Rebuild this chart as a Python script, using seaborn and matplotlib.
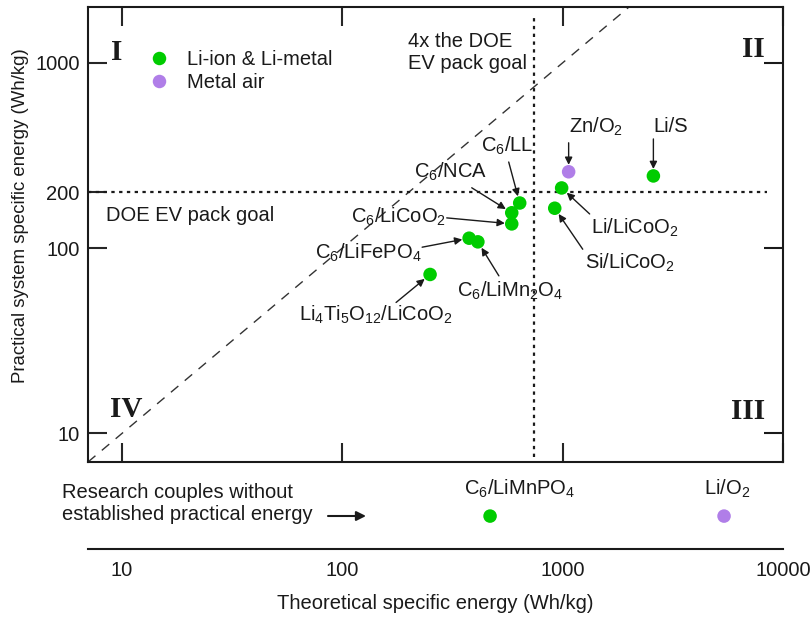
import numpy as np
import pandas as pd
import matplotlib
matplotlib.use("Agg")
import matplotlib.pyplot as plt
from matplotlib.ticker import FixedLocator, FixedFormatter, NullLocator
import seaborn as sns

# -------------------------
# data
# -------------------------
couples = ["Li$_4$Ti$_5$O$_{12}$/LiCoO$_2$", "C$_6$/LiFePO$_4$", "C$_6$/LiMn$_2$O$_4$",
           "C$_6$/LiCoO$_2$", "C$_6$/NCA", "C$_6$/LL", "Si/LiCoO$_2$", "Li/LiCoO$_2$",
           "Zn/O$_2$", "Li/S"]
theoretical = [250, 376, 412, 587, 587, 638, 920, 989, 1064, 2580]
practical = [72, 113, 108, 135, 155, 175, 164, 211, 258, 245]
chem_type = ["Li-ion & Li-metal", "Li-ion & Li-metal", "Li-ion & Li-metal",
             "Li-ion & Li-metal", "Li-ion & Li-metal", "Li-ion & Li-metal",
             "Li-ion & Li-metal", "Li-ion & Li-metal", "Metal air", "Li-ion & Li-metal"]

research_couples = ["C$_6$/LiMnPO$_4$", "Li/O$_2$"]
research_theoretical = [468, 5400]
research_type = ["Li-ion & Li-metal", "Metal air"]

doe_goal = 200          # practical pack goal (Wh/kg)
four_x_goal = 740       # theoretical line drawn on the chart

x_ticks = [10, 100, 1000, 10000]
y_ticks = [10, 100, 200, 1000]

palette = {"Li-ion & Li-metal": "#00cc00", "Metal air": "#b07ee8"}

# label layout: (text dx, text dy, ha), arrow tail (dx, dy) in pixels from the point
label_layout = [
    ((-131, -46, "left"), (-34, -28)),
    ((-48, -20, "right"), (-47, -9)),
    ((-21, -55, "left"), (21, -34)),
    ((-66, 1, "right"), (-65, 6)),
    ((-25, 35, "right"), (-40, 25)),
    ((-39, 51, "left"), (-11, 41)),
    ((30, -60, "left"), (28, -41)),
    ((29, -46, "left"), (28, -26)),
    ((0, 39, "left"), (0, 29)),
    ((0, 44, "left"), (0, 37)),
]
research_layout = [(-26, 21), (-20, 21)]

df = pd.DataFrame({"couple": couples, "theoretical": theoretical,
                   "practical": practical, "type": chem_type})
df_res = pd.DataFrame({"couple": research_couples, "theoretical": research_theoretical,
                       "type": research_type})

# -------------------------
# style
# -------------------------
sns.set_theme(style="white")
plt.rcParams["font.family"] = ["Liberation Sans", "DejaVu Sans"]
plt.rcParams["mathtext.default"] = "regular"
plt.rcParams["axes.linewidth"] = 1.5
TXT = "#1a1a1a"
FS = 14.5

W, H = 812, 623
fig = plt.figure(figsize=(W / 100, H / 100), dpi=100)
ax = fig.add_axes([88 / W, 1 - 462 / H, 695 / W, 455 / H])
ax2 = fig.add_axes([88 / W, 1 - 549 / H, 695 / W, 79 / H])

# main scatter
sns.scatterplot(data=df, x="theoretical", y="practical", hue="type", palette=palette,
                hue_order=["Li-ion & Li-metal", "Metal air"],
                s=95, edgecolor="none", linewidth=0, ax=ax, zorder=5)
ax.set_xscale("log")
ax.set_yscale("log")
ax.set_xlim(7, 10000)
ax.set_ylim(7, 2000)

ax.xaxis.set_major_locator(FixedLocator(x_ticks))
ax.xaxis.set_minor_locator(NullLocator())
ax.yaxis.set_major_locator(FixedLocator(y_ticks))
ax.yaxis.set_major_formatter(FixedFormatter([str(t) for t in y_ticks]))
ax.yaxis.set_minor_locator(NullLocator())
ax.tick_params(axis="x", which="major", direction="in", length=14, width=1.5,
               top=True, bottom=True, labelbottom=False, labeltop=False)
ax.tick_params(axis="y", which="major", direction="in", length=14, width=1.5,
               left=True, right=False, labelsize=FS, labelcolor=TXT, pad=6)
for sp in ax.spines.values():
    sp.set_color(TXT)

right = ax.secondary_yaxis("right")
right.yaxis.set_major_locator(FixedLocator([10, 100, 1000]))
right.yaxis.set_minor_locator(NullLocator())
right.tick_params(direction="in", length=14, width=1.5, labelright=False, color=TXT)
right.spines["right"].set_visible(False)

ax.set_xlabel("")
ax.set_ylabel("Practical system specific energy (Wh/kg)", fontsize=13.4, color=TXT)
ax.yaxis.set_label_coords(-0.085, (462 - 216) / 455)

# reference lines
ax.axline((10, 10), (1000, 1000), color="#333333", lw=1.0, ls=(0, (7, 6)), zorder=1)
ax.axhline(doe_goal, xmin=0, xmax=0.977, color=TXT, lw=1.6, ls=(0, (1.5, 2)), zorder=1)
ax.axvline(four_x_goal, ymin=0.011, ymax=0.978, color=TXT, lw=1.6, ls=(0, (1.5, 2)), zorder=1)

ax.text(0.026, (462 - 221) / 455, "DOE EV pack goal", transform=ax.transAxes,
        fontsize=FS, color=TXT, va="baseline")
ax.text((408 - 88) / 695, (462 - 47) / 455, "4x the DOE", transform=ax.transAxes,
        fontsize=FS, color=TXT, va="baseline")
ax.text((408 - 88) / 695, (462 - 69) / 455, "EV pack goal", transform=ax.transAxes,
        fontsize=FS, color=TXT, va="baseline")

# quadrant numerals
serif = dict(family=["Liberation Serif", "DejaVu Serif"], fontweight="bold", fontsize=21, color=TXT,
             ha="center", va="baseline", transform=ax.transAxes)
ax.text((117 - 88) / 695, (462 - 60) / 455, "I", **serif)
ax.text((753 - 88) / 695, (462 - 57) / 455, "II", **serif)
ax.text((748 - 88) / 695, (462 - 419) / 455, "III", **serif)
ax.text((126 - 88) / 695, (462 - 417) / 455, "IV", **serif)

# labels with arrows
for (name, x, y), ((tx, ty, ha), (axx, ayy)) in zip(
        df[["couple", "theoretical", "practical"]].itertuples(index=False), label_layout):
    ax.annotate("", xy=(x, y), xytext=(axx, ayy), textcoords="offset pixels",
                arrowprops=dict(arrowstyle="-|>", color=TXT, lw=1.0, shrinkA=0, shrinkB=5,
                                mutation_scale=11))
    ax.annotate(name, xy=(x, y), xytext=(tx, ty), textcoords="offset pixels",
                ha=ha, va="baseline", fontsize=FS, color=TXT)

# legend
handles, labels = ax.get_legend_handles_labels()
for h in handles:
    if hasattr(h, "set_sizes"):
        h.set_sizes([95])
    else:
        h.set_markersize(9.7)
ax.legend(handles, labels, frameon=False, loc="upper left", bbox_to_anchor=(0.0755, 0.923),
          fontsize=FS, handlelength=1.0, handletextpad=0.9, labelspacing=0.2,
          borderaxespad=0, labelcolor=TXT)

# -------------------------
# bottom strip: research couples
# -------------------------
sns.scatterplot(x=df_res["theoretical"], y=np.zeros(len(df_res)), hue=df_res["type"],
                palette=palette, s=95, edgecolor="none", linewidth=0, ax=ax2, legend=False)
ax2.set_xscale("log")
ax2.set_xlim(7, 10000)
ax2.set_ylim(-1, 1.4)
ax2.xaxis.set_major_locator(FixedLocator(x_ticks))
ax2.xaxis.set_major_formatter(FixedFormatter([str(t) for t in x_ticks]))
ax2.xaxis.set_minor_locator(NullLocator())
ax2.yaxis.set_major_locator(NullLocator())
ax2.yaxis.set_minor_locator(NullLocator())
ax2.tick_params(axis="x", direction="in", length=14, width=1.5, labelsize=FS,
                labelcolor=TXT, pad=9, color=TXT)
for side in ["left", "right", "top"]:
    ax2.spines[side].set_visible(False)
ax2.spines["bottom"].set_color(TXT)
ax2.patch.set_alpha(0)
ax2.set_ylabel("")
ax2.set_xlabel("Theoretical specific energy (Wh/kg)", fontsize=FS, color=TXT, labelpad=10)

for (name, x), (tx, ty) in zip(df_res[["couple", "theoretical"]].itertuples(index=False),
                               research_layout):
    ax2.annotate(name, xy=(x, 0), xytext=(tx, ty), textcoords="offset pixels",
                 ha="left", va="baseline", fontsize=FS, color=TXT)

fig.text(62 / W, 1 - 498 / H, "Research couples without", fontsize=FS, color=TXT, va="baseline")
fig.text(62 / W, 1 - 520 / H, "established practical energy", fontsize=FS, color=TXT, va="baseline")
ax2.annotate("", xy=(366 / W, 1 - 516 / H), xycoords="figure fraction",
             xytext=(328 / W, 1 - 516 / H), textcoords="figure fraction",
             arrowprops=dict(arrowstyle="-|>", color=TXT, lw=1.5, shrinkA=0, shrinkB=0,
                             mutation_scale=14))

fig.savefig("out.png", dpi=100)
